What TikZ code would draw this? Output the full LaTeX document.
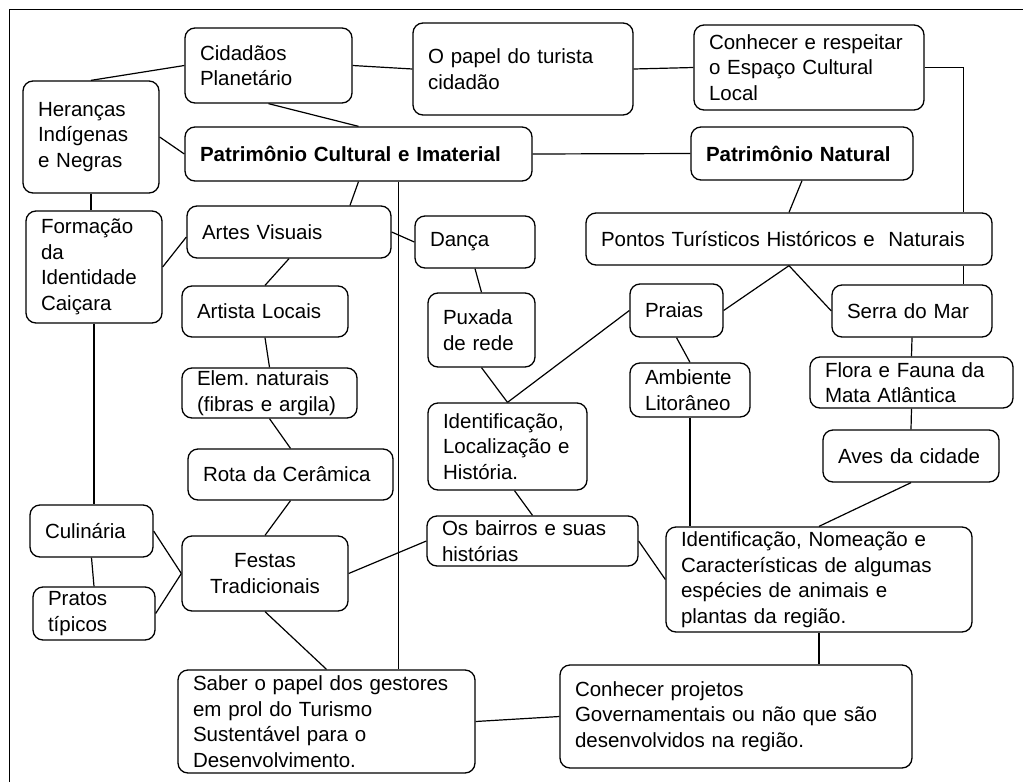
\documentclass[tikz,border=0pt]{standalone}
\usepackage{fontspec}
\setmainfont{Liberation Sans}
\hyphenpenalty=10000
\exhyphenpenalty=10000

\begin{document}
\begin{tikzpicture}[x=1pt, y=-1pt,
  caixa/.style={draw, line width=1.3pt, rounded corners=10pt, align=left, inner xsep=15pt, inner ysep=0pt, font=\fontsize{20.5}{25.5}\selectfont},
  titulo/.style={caixa, font=\fontsize{20.5}{25.5}\selectfont\bfseries},
  liga/.style={line width=1.2pt}]
\useasboundingbox (0,0) rectangle (1023,782);
\draw[line width=1.3pt] (9.5,782) -- (9.5,9.5) -- (1023,9.5);

\node[caixa, text width=137pt, minimum height=75pt] (cidadaos) at (268.5,65.5) {Cidadãos\\Planetário};
\node[caixa, text width=190pt, minimum height=92pt] (papel) at (523,69) {O papel do turista\\cidadão};
\node[caixa, text width=200pt, minimum height=85pt] (conhecer) at (809,67.5) {Conhecer e respeitar\\o Espaço Cultural\\Local};
\node[caixa, text width=106pt, minimum height=112pt] (herancas) at (91,137) {Heranças\\Indígenas\\e Negras};
\node[titulo, text width=317pt, minimum height=54pt] (pcultural) at (358.5,154) {Patrimônio Cultural e Imaterial};
\node[titulo, text width=192pt, minimum height=53pt] (pnatural) at (802,153.5) {Patrimônio Natural};
\node[caixa, text width=106pt, minimum height=112pt] (formacao) at (94,267) {Formação\\da\\Identidade\\Caiçara};
\node[caixa, text width=174pt, minimum height=52pt] (artes) at (289,232) {Artes Visuais};
\node[caixa, text width=90pt, minimum height=52pt] (danca) at (475,242) {Dança};
\node[caixa, text width=376pt, minimum height=52pt] (pontos) at (789,239) {Pontos Turísticos Históricos e\ \ Naturais};
\node[caixa, text width=136pt, minimum height=51pt] (artista) at (265,311.5) {Artista Locais};
\node[caixa, text width=77pt, minimum height=74pt] (puxada) at (481.5,330) {Puxada\\de rede};
\node[caixa, text width=63pt, minimum height=53pt] (praias) at (676.5,310.5) {Praias};
\node[caixa, text width=130pt, minimum height=52pt] (serra) at (912,311) {Serra do Mar};
\node[caixa, text width=145pt, minimum height=50pt] (elem) at (269.5,393) {Elem.\ naturais\\(fibras e argila)};
\node[caixa, text width=90pt, minimum height=54pt] (ambiente) at (690,390) {Ambiente\\Litorâneo};
\node[caixa, text width=173pt, minimum height=51pt] (flora) at (911.5,382.5) {Flora e Fauna da\\Mata Atlântica};
\node[caixa, text width=129pt, minimum height=87pt] (identloc) at (507.5,446.5) {Identificação,\\Localização e\\História.};
\node[caixa, text width=146pt, minimum height=52pt] (aves) at (911,456) {Aves da cidade};
\node[caixa, text width=175pt, minimum height=51pt] (rota) at (290.5,474.5) {Rota da Cerâmica};
\node[caixa, text width=93pt, minimum height=52pt] (culinaria) at (91.5,531) {Culinária};
\node[caixa, text width=181pt, minimum height=50pt] (bairros) at (532.5,541) {Os bairros e suas\\histórias};
\node[caixa, text width=276pt, minimum height=105pt] (identnom) at (819,579.5) {Identificação, Nomeação e\\Características de algumas\\espécies de animais e\\plantas da região.};
\node[caixa, text width=92pt, minimum height=53pt] (pratos) at (94,613.5) {Pratos\\típicos};
\node[caixa, text width=136pt, minimum height=75pt, align=center] (festas) at (265,573.5) {Festas\\Tradicionais};
\node[caixa, text width=267pt, minimum height=103pt] (saber) at (326.5,721.5) {Saber o papel dos gestores\\em prol do Turismo\\Sustentável para o\\Desenvolvimento.};
\node[caixa, text width=322pt, minimum height=103pt] (projetos) at (736,716.5) {Conhecer projetos\\Governamentais ou não que são\\desenvolvidos na região.};

\draw[liga] (cidadaos.west) -- (herancas.north);
\draw[liga] (cidadaos.east) -- (papel.west);
\draw[liga] (papel.east) -- (conhecer.west);
\draw[liga] (cidadaos.south) -- (pcultural.north);
\draw[liga] (herancas.east) -- (pcultural.west);
\draw[liga] (pcultural.east) -- (pnatural.west);
\draw[liga] (conhecer.east) -| ([xshift=-29pt]pontos.north east);
\draw[liga] ([xshift=-29pt]pontos.south east) -- ([xshift=-29pt]serra.north east);
\draw[liga] (pcultural.south) -- ([xshift=61pt]artes.north);
\draw[liga] ([xshift=40pt]pcultural.south) -- ([xshift=40pt]pcultural.south |- saber.north);
\draw[liga] (herancas.south) -- (herancas.south |- formacao.north);
\draw[liga] (formacao.east) -- ([yshift=-5pt]artes.west);
\draw[liga] (artes.east) -- (danca.west);
\draw[liga] (artes.south) -- (artista.north);
\draw[liga] (danca.south) -- (puxada.north);
\draw[liga] (artista.south) -- (elem.north);
\draw[liga] (elem.south) -- (rota.north);
\draw[liga] (puxada.south) -- (identloc.north);
\draw[liga] (praias.west) -- (identloc.north);
\draw[liga] ([xshift=7pt]identloc.south) -- (bairros.north);
\draw[liga] (pnatural.south) -- (pontos.north);
\draw[liga] (pontos.south) -- (praias.east);
\draw[liga] (pontos.south) -- (serra.west);
\draw[liga] (praias.south) -- (ambiente.north);
\draw[liga] (serra.south) -- (flora.north);
\draw[liga] (flora.south) -- (aves.north);
\draw[liga] (ambiente.south) -- (ambiente.south |- identnom.north);
\draw[liga] (aves.south) -- (identnom.north);
\draw[liga] (identnom.south) -- (identnom.south |- projetos.north);
\draw[liga] (rota.south) -- (festas.north);
\draw[liga] (formacao.south) -- (formacao.south |- culinaria.north);
\draw[liga] (culinaria.south) -- (pratos.north);
\draw[liga] (culinaria.east) -- (festas.west);
\draw[liga] (pratos.east) -- (festas.west);
\draw[liga] (festas.east) -- (bairros.west);
\draw[liga] (festas.south) -- (saber.north);
\draw[liga] (saber.east) -- (projetos.west);
\draw[liga] (bairros.east) -- (identnom.west);
\end{tikzpicture}
\end{document}
